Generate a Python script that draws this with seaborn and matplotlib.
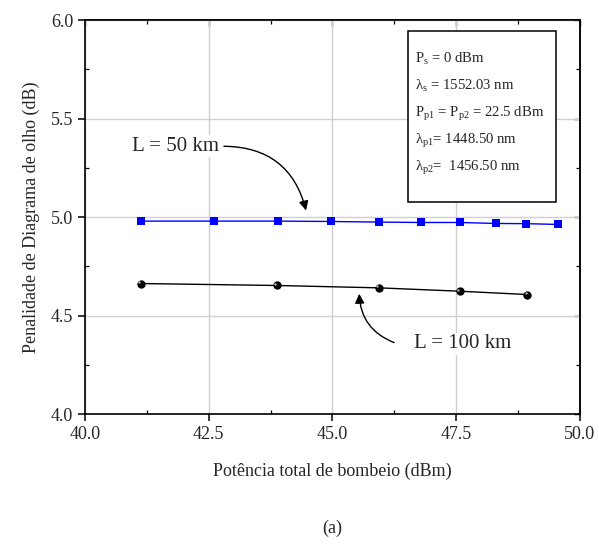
import matplotlib
matplotlib.use("Agg")
import matplotlib.pyplot as plt
import seaborn as sns
import pandas as pd
from matplotlib.ticker import MultipleLocator, FormatStrFormatter, NullFormatter

# ---- data ----
x_50km = [41.13, 42.60, 43.89, 44.98, 45.94, 46.78, 47.58, 48.30, 48.92, 49.55]
y_50km = [4.980, 4.980, 4.980, 4.978, 4.975, 4.973, 4.973, 4.968, 4.967, 4.963]
x_100km = [41.13, 43.88, 45.94, 47.57, 48.94]
y_100km = [4.663, 4.653, 4.641, 4.624, 4.607]
xlabel = "Potência total de bombeio (dBm)"
ylabel = "Penalidade de Diagrama de olho (dB)"
box_lines = [
    "P$_\\mathrm{s}$ = 0 dBm",
    "λ$_\\mathrm{s}$ = 1552.03 nm",
    "P$_\\mathrm{p1}$ = P$_\\mathrm{p2}$ = 22.5 dBm",
    "λ$_\\mathrm{p1}$= 1448.50 nm",
    "λ$_\\mathrm{p2}$=  1456.50 nm",
]

sns.set_theme(style="white")
plt.rcParams["font.family"] = ["Liberation Serif", "DejaVu Serif"]
plt.rcParams["mathtext.fontset"] = "custom"
plt.rcParams["mathtext.rm"] = "Liberation Serif"
plt.rcParams["mathtext.default"] = "regular"

df50 = pd.DataFrame({"x": x_50km, "y": y_50km})
df100 = pd.DataFrame({"x": x_100km, "y": y_100km})

fig = plt.figure(figsize=(5.99, 5.47), dpi=100)
ax = fig.add_axes([0.142, 0.243, 0.826, 0.72])

sns.lineplot(data=df50, x="x", y="y", ax=ax, color="#0000ff", lw=1.0, zorder=3)
sns.scatterplot(data=df50, x="x", y="y", ax=ax, color="#0000ff", marker="s", s=34,
                edgecolor="#0000ff", linewidth=0, zorder=4)
sns.lineplot(data=df100, x="x", y="y", ax=ax, color="black", lw=1.0, zorder=3)
sns.scatterplot(data=df100, x="x", y="y", ax=ax, color="black", marker="o", s=36,
                edgecolor="black", linewidth=0, zorder=4)
# small specular highlight on the spheres
import matplotlib.transforms as mtrans
hl = mtrans.offset_copy(ax.transData, fig=fig, x=-1.2, y=1.2, units="points")
ax.scatter(x_100km, y_100km, s=3, color="#bbbbbb", linewidth=0, zorder=5, transform=hl)

ax.set_xlim(40, 50)
ax.set_ylim(4.0, 6.0)
ax.xaxis.set_major_locator(MultipleLocator(2.5))
ax.xaxis.set_minor_locator(MultipleLocator(1.25))
ax.yaxis.set_major_locator(MultipleLocator(0.5))
ax.yaxis.set_minor_locator(MultipleLocator(0.25))
ax.xaxis.set_major_formatter(FormatStrFormatter("%.1f"))
ax.yaxis.set_major_formatter(FormatStrFormatter("%.1f"))
ax.grid(True, which="major", color="#d0d0d0", lw=1.0, zorder=0)
for s in ax.spines.values():
    s.set_color("black")
    s.set_linewidth(1.2)
ax.tick_params(which="major", direction="out", length=5, width=1.1, color="black",
               labelsize=13, bottom=True, left=True, top=False, right=False)
ax.tick_params(which="minor", direction="in", length=3, width=0.9, color="black",
               bottom=True, left=True, top=False, right=False)

# inward ticks on top and right
for side in ("top",):
    sec = ax.secondary_xaxis(side)
    sec.xaxis.set_major_locator(MultipleLocator(2.5))
    sec.xaxis.set_minor_locator(MultipleLocator(1.25))
    sec.xaxis.set_major_formatter(NullFormatter())
    sec.tick_params(which="major", direction="in", length=4, width=1.0, color="black")
    sec.tick_params(which="minor", direction="in", length=3, width=0.9, color="black")
    sec.spines[side].set_linewidth(1.2)
secy = ax.secondary_yaxis("right")
secy.yaxis.set_major_locator(MultipleLocator(0.5))
secy.yaxis.set_minor_locator(MultipleLocator(0.25))
secy.yaxis.set_major_formatter(NullFormatter())
secy.tick_params(which="major", direction="in", length=4, width=1.0, color="black")
secy.tick_params(which="minor", direction="in", length=3, width=0.9, color="black")
secy.spines["right"].set_linewidth(1.2)

ax.set_xlabel(xlabel, fontsize=13, labelpad=14)
ax.set_ylabel(ylabel, fontsize=13, labelpad=8)

# parameter box
ax.add_patch(plt.Rectangle((46.52, 5.075), 2.99, 0.869, fill=True, facecolor="white",
                           edgecolor="black", lw=1.1, zorder=5))
ys = [5.805, 5.667, 5.525, 5.387, 5.250]
for line, yy in zip(box_lines, ys):
    ax.text(46.66, yy, line, fontsize=10.6, va="center", ha="left", zorder=6)

# annotations
ax.annotate("", xy=(44.48, 5.02), xytext=(42.75, 5.36),
            arrowprops=dict(arrowstyle="-|>", color="black", lw=1.0,
                            connectionstyle="arc3,rad=-0.4", mutation_scale=14))
ax.text(42.7, 5.36, "L = 50 km", fontsize=15, ha="right", va="center",
        bbox=dict(facecolor="white", edgecolor="none", pad=1))
ax.annotate("", xy=(45.54, 4.625), xytext=(46.3, 4.358),
            arrowprops=dict(arrowstyle="-|>", color="black", lw=1.0,
                            connectionstyle="arc3,rad=-0.35", mutation_scale=14))
ax.text(46.65, 4.358, "L = 100 km", fontsize=15, ha="left", va="center",
        bbox=dict(facecolor="white", edgecolor="none", pad=1))

fig.text(0.5 * (0.142 + 0.968), 0.035, "(a)", fontsize=13, ha="center", va="center")

fig.savefig("out.png", dpi=100)
